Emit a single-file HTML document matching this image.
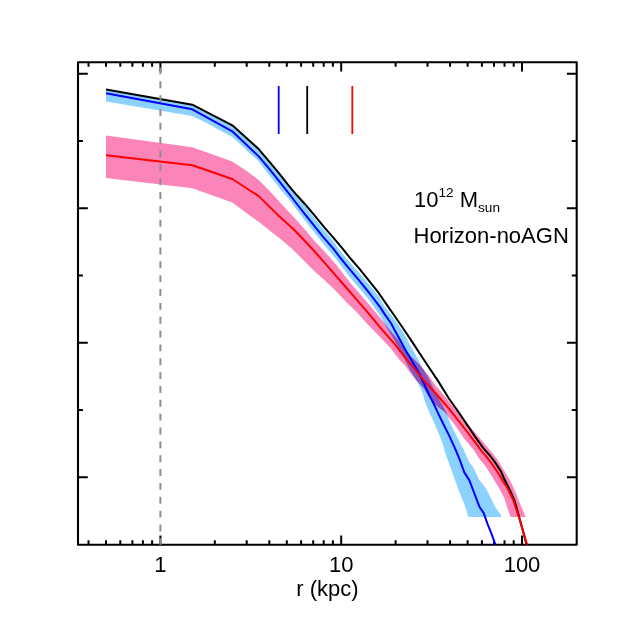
<!DOCTYPE html>
<html><head><meta charset="utf-8"><title>plot</title>
<style>html,body{margin:0;padding:0;background:#fff}svg{display:block;will-change:transform}text{font-family:"Liberation Sans",sans-serif;fill:#000}</style></head><body>
<svg width="623" height="623" viewBox="0 0 623 623">
<rect width="623" height="623" fill="#fff"/>
<defs><clipPath id="pk"><polygon points="106.0,135.6 192.3,147.2 232.3,161.5 245.2,170.0 258.7,180.1 269.9,191.3 281.2,203.7 295.0,218.5 305.3,230.0 313.7,240.1 324.9,251.9 336.2,264.8 349.6,282.0 351.9,284.7 363.1,297.4 374.3,310.8 379.9,317.6 385.6,324.8 391.2,331.8 397.9,339.5 403.0,347.0 407.7,353.5 414.3,359.5 420.0,365.2 423.9,369.9 428.7,375.6 434.0,383.5 444.1,395.6 453.7,407.2 463.3,418.7 473.0,430.3 483.5,442.5 493.2,454.1 498.9,461.8 502.5,468.0 509.9,480.1 515.6,492.5 520.1,503.7 523.4,511.6 525.7,517.0 510.5,517.0 509.9,514.9 507.1,507.1 504.3,498.1 498.4,486.9 493.2,478.5 488.3,470.4 483.5,463.7 478.7,457.9 473.9,450.2 464.3,438.7 458.5,430.3 453.7,423.5 448.9,417.7 444.6,412.0 439.3,408.0 434.4,403.5 429.0,397.5 423.9,388.5 419.1,383.3 414.3,377.6 409.4,371.8 404.6,365.0 399.8,360.2 395.3,354.6 391.2,349.0 379.9,336.7 368.7,325.4 357.5,313.1 346.2,301.9 336.2,291.2 324.9,280.6 313.7,270.4 302.5,259.2 291.2,248.0 280.5,239.0 269.9,230.7 258.7,221.7 247.5,213.8 232.3,202.6 192.3,188.2 106.0,177.9"/></clipPath></defs>
<path d="M88.5 544.75v-4.6M88.5 62.2v4.6M106.0 544.75v-4.6M106.0 62.2v4.6M120.3 544.75v-4.6M120.3 62.2v4.6M132.4 544.75v-4.6M132.4 62.2v4.6M142.9 544.75v-4.6M142.9 62.2v4.6M152.1 544.75v-4.6M152.1 62.2v4.6M160.4 544.75v-9.3M160.4 62.2v9.3M214.8 544.75v-4.6M214.8 62.2v4.6M246.7 544.75v-4.6M246.7 62.2v4.6M269.3 544.75v-4.6M269.3 62.2v4.6M286.8 544.75v-4.6M286.8 62.2v4.6M301.1 544.75v-4.6M301.1 62.2v4.6M313.2 544.75v-4.6M313.2 62.2v4.6M323.7 544.75v-4.6M323.7 62.2v4.6M332.9 544.75v-4.6M332.9 62.2v4.6M341.2 544.75v-9.3M341.2 62.2v9.3M395.6 544.75v-4.6M395.6 62.2v4.6M427.5 544.75v-4.6M427.5 62.2v4.6M450.1 544.75v-4.6M450.1 62.2v4.6M467.6 544.75v-4.6M467.6 62.2v4.6M481.9 544.75v-4.6M481.9 62.2v4.6M494.0 544.75v-4.6M494.0 62.2v4.6M504.5 544.75v-4.6M504.5 62.2v4.6M513.7 544.75v-4.6M513.7 62.2v4.6M522.0 544.75v-9.3M522.0 62.2v9.3M78.0 73.7h9.8M576.7 73.7h-9.8M78.0 208.2h9.8M576.7 208.2h-9.8M78.0 342.8h9.8M576.7 342.8h-9.8M78.0 477.3h9.8M576.7 477.3h-9.8M78.0 141h4.9M576.7 141h-4.9M78.0 275.5h4.9M576.7 275.5h-4.9M78.0 410.1h4.9M576.7 410.1h-4.9" stroke="#000" stroke-width="2" fill="none"/>
<rect x="78.0" y="62.2" width="498.7" height="482.6" fill="none" stroke="#000" stroke-width="2.1" stroke-linejoin="round"/>
<polygon points="106.0,90.0 192.3,105.3 232.3,126.0 258.7,150.0 278.9,174.2 296.9,196.5 304.6,205.5 314.3,218.1 323.9,229.7 333.5,241.2 340.0,250.8 349.6,261.9 359.3,272.9 368.9,284.5 378.5,296.0 384.6,306.4 394.3,318.9 403.9,333.3 406.6,338.5 411.6,347.8 414.3,352.5 419.1,361.2 423.9,369.9 428.7,378.5 433.5,388.2 437.4,395.9 439.3,400.0 444.1,408.1 446.0,412.0 448.9,419.7 453.7,430.3 459.4,441.6 464.3,451.2 469.1,461.8 473.9,468.5 478.7,479.1 486.3,489.1 490.8,498.1 495.3,507.1 501.0,514.9 501.2,517.0 468.4,517.0 465.0,506.0 458.5,489.7 454.6,479.1 449.8,465.6 445.0,452.2 443.1,445.0 439.3,435.1 434.4,423.5 429.6,412.9 424.8,401.4 422.9,393.9 419.1,385.3 414.3,377.6 409.4,368.9 404.6,359.3 399.1,348.7 394.3,340.1 389.4,332.0 384.6,323.7 379.9,315.3 368.7,299.6 359.3,288.3 349.6,276.8 340.0,264.3 336.2,259.2 324.9,245.7 314.3,232.6 304.6,220.0 295.0,207.5 288.5,198.7 278.9,187.2 269.3,175.2 264.4,168.9 258.7,161.2 248.2,152.0 238.5,142.4 232.3,137.1 219.3,129.9 209.6,124.6 200.0,119.7 192.3,116.0 106.0,101.4" fill="#8cd2fe"/>
<polygon points="106.0,135.6 192.3,147.2 232.3,161.5 245.2,170.0 258.7,180.1 269.9,191.3 281.2,203.7 295.0,218.5 305.3,230.0 313.7,240.1 324.9,251.9 336.2,264.8 349.6,282.0 351.9,284.7 363.1,297.4 374.3,310.8 379.9,317.6 385.6,324.8 391.2,331.8 397.9,339.5 403.0,347.0 407.7,353.5 414.3,359.5 420.0,365.2 423.9,369.9 428.7,375.6 434.0,383.5 444.1,395.6 453.7,407.2 463.3,418.7 473.0,430.3 483.5,442.5 493.2,454.1 498.9,461.8 502.5,468.0 509.9,480.1 515.6,492.5 520.1,503.7 523.4,511.6 525.7,517.0 510.5,517.0 509.9,514.9 507.1,507.1 504.3,498.1 498.4,486.9 493.2,478.5 488.3,470.4 483.5,463.7 478.7,457.9 473.9,450.2 464.3,438.7 458.5,430.3 453.7,423.5 448.9,417.7 444.6,412.0 439.3,408.0 434.4,403.5 429.0,397.5 423.9,388.5 419.1,383.3 414.3,377.6 409.4,371.8 404.6,365.0 399.8,360.2 395.3,354.6 391.2,349.0 379.9,336.7 368.7,325.4 357.5,313.1 346.2,301.9 336.2,291.2 324.9,280.6 313.7,270.4 302.5,259.2 291.2,248.0 280.5,239.0 269.9,230.7 258.7,221.7 247.5,213.8 232.3,202.6 192.3,188.2 106.0,177.9" fill="#fb85b8"/>
<polygon points="106.0,90.0 192.3,105.3 232.3,126.0 258.7,150.0 278.9,174.2 296.9,196.5 304.6,205.5 314.3,218.1 323.9,229.7 333.5,241.2 340.0,250.8 349.6,261.9 359.3,272.9 368.9,284.5 378.5,296.0 384.6,306.4 394.3,318.9 403.9,333.3 406.6,338.5 411.6,347.8 414.3,352.5 419.1,361.2 423.9,369.9 428.7,378.5 433.5,388.2 437.4,395.9 439.3,400.0 444.1,408.1 446.0,412.0 448.9,419.7 453.7,430.3 459.4,441.6 464.3,451.2 469.1,461.8 473.9,468.5 478.7,479.1 486.3,489.1 490.8,498.1 495.3,507.1 501.0,514.9 501.2,517.0 468.4,517.0 465.0,506.0 458.5,489.7 454.6,479.1 449.8,465.6 445.0,452.2 443.1,445.0 439.3,435.1 434.4,423.5 429.6,412.9 424.8,401.4 422.9,393.9 419.1,385.3 414.3,377.6 409.4,368.9 404.6,359.3 399.1,348.7 394.3,340.1 389.4,332.0 384.6,323.7 379.9,315.3 368.7,299.6 359.3,288.3 349.6,276.8 340.0,264.3 336.2,259.2 324.9,245.7 314.3,232.6 304.6,220.0 295.0,207.5 288.5,198.7 278.9,187.2 269.3,175.2 264.4,168.9 258.7,161.2 248.2,152.0 238.5,142.4 232.3,137.1 219.3,129.9 209.6,124.6 200.0,119.7 192.3,116.0 106.0,101.4" fill="#8757be" clip-path="url(#pk)"/>
<polyline points="106.0,89.4 192.3,104.7 232.3,125.3 258.7,149.1 269.3,161.7 278.9,173.2 288.5,185.3 296.9,195.3 304.6,203.7 314.3,215.2 323.9,226.8 333.5,237.9 343.2,249.4 349.6,257.5 359.3,268.6 368.9,280.6 378.5,292.7 384.6,301.6 394.3,315.5 403.9,329.5 413.5,343.9 419.1,352.5 428.7,367.0 438.3,381.4 448.9,398.5 458.5,412.0 468.2,426.4 475.8,437.7 483.5,448.3 490.3,456.0 496.0,463.7 500.9,471.4 504.3,479.0 509.9,490.2 514.4,500.3 516.7,508.2 518.9,516.1 522.3,528.4 526.5,544.5" fill="none" stroke="#000" stroke-width="2" stroke-linejoin="round"/>
<line x1="160.4" y1="62.2" x2="160.4" y2="544.75" stroke="#8e8e8e" stroke-width="2" stroke-dasharray="6.9 6.95" stroke-dashoffset="-5.25"/>
<polyline points="106.0,93.2 192.3,109.3 232.3,131.3 258.7,156.4 269.3,168.9 278.9,180.9 288.5,193.0 295.0,201.5 304.6,213.8 314.3,225.8 323.9,237.8 333.5,248.9 340.0,257.5 349.6,269.1 359.3,280.6 368.9,292.5 379.9,306.9 384.6,314.1 391.2,323.5 394.3,329.5 399.8,339.5 404.6,348.5 409.4,356.4 414.3,365.0 419.1,373.2 423.9,383.5 429.6,395.6 434.4,405.2 439.3,415.8 444.1,425.5 448.9,435.1 454.6,447.3 459.4,458.9 464.3,472.4 469.3,480.1 474.0,492.5 479.6,507.1 483.5,512.7 487.5,523.9 492.0,535.2 495.4,544.6" fill="none" stroke="#0000ff" stroke-width="2" stroke-linejoin="round"/>
<polyline points="106.0,155.3 192.3,165.2 232.3,179.0 258.7,196.1 277.8,214.9 294.6,230.2 302.5,238.5 313.7,250.5 324.9,263.1 336.2,276.1 344.0,285.0 357.5,300.7 368.7,313.7 379.9,327.1 391.2,340.1 395.0,344.3 404.6,356.9 414.3,368.4 423.9,380.5 428.2,385.0 439.3,397.5 448.9,408.6 458.5,420.6 465.7,430.0 473.9,440.6 481.6,451.2 487.4,457.9 493.2,465.6 498.9,474.3 502.8,481.0 507.7,488.5 513.3,500.3 516.7,510.4 518.9,517.2 522.3,528.4 527.0,544.6" fill="none" stroke="#ff0000" stroke-width="2" stroke-linejoin="round"/>
<line x1="278.7" y1="86" x2="278.7" y2="134" stroke="#0000ff" stroke-width="1.8"/>
<line x1="307.2" y1="86" x2="307.2" y2="134" stroke="#000" stroke-width="1.8"/>
<line x1="352.3" y1="86" x2="352.3" y2="134" stroke="#ff0000" stroke-width="1.8"/>
<text x="160.4" y="572.3" font-size="22" text-anchor="middle">1</text>
<text x="341.2" y="572.3" font-size="22" text-anchor="middle">10</text>
<text x="522.0" y="572.3" font-size="22" text-anchor="middle">100</text>
<text x="327.5" y="595.5" font-size="22" text-anchor="middle">r (kpc)</text>
<text x="414" y="207" font-size="22">10<tspan font-size="13.6" dy="-10">12</tspan><tspan dy="10"> M</tspan><tspan font-size="13.6" dy="5">sun</tspan></text>
<text x="413.5" y="243" font-size="22">Horizon-noAGN</text>
</svg></body></html>
